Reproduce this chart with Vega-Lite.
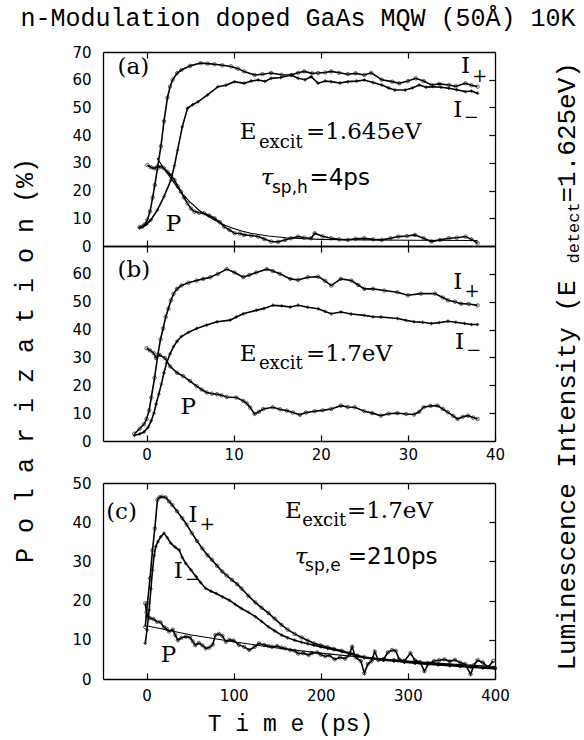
{
"$schema": "https://vega.github.io/schema/vega-lite/v6.json",
"padding": {"left": 12, "top": 6, "right": 2, "bottom": 12},
"title": {"text": "n-Modulation doped GaAs MQW (50Å) 10K", "font": "Liberation Mono", "fontSize": 25, "fontWeight": "normal", "color": "black", "anchor": "middle", "offset": 14, "dx": 1},
"config": {
 "view": {"stroke": null},
 "axis": {"domain": true, "domainColor": "black", "domainWidth": 1.3, "grid": false, "ticks": true, "tickSize": -6, "tickColor": "black", "tickWidth": 1.2, "labelColor": "black", "labelFont": "DejaVu Sans", "labelFontSize": 15, "labelFlush": false, "labelOverlap": false, "titleColor": "black", "titleFont": "Liberation Mono", "titleFontWeight": "normal"}
},
"bounds": "flush",
"spacing": 0,
"datasets": {
"curves": [
{"p":"a","s":"I+","t":-0.8,"v":6.8},{"p":"a","s":"I+","t":-0.5,"v":7},{"p":"a","s":"I+","t":-0.2,"v":7.8},{"p":"a","s":"I+","t":0.1,"v":9.4},{"p":"a","s":"I+","t":0.4,"v":12.5},{"p":"a","s":"I+","t":0.7,"v":17.5},{"p":"a","s":"I+","t":0.95,"v":22},{"p":"a","s":"I+","t":1.25,"v":28},{"p":"a","s":"I+","t":1.65,"v":36},{"p":"a","s":"I+","t":2.0,"v":45},{"p":"a","s":"I+","t":2.4,"v":53.5},{"p":"a","s":"I+","t":2.7,"v":57.5},{"p":"a","s":"I+","t":3.0,"v":60},{"p":"a","s":"I+","t":3.5,"v":62.3},{"p":"a","s":"I+","t":4.0,"v":63.5},{"p":"a","s":"I+","t":5.0,"v":65},{"p":"a","s":"I+","t":6.2,"v":66},{"p":"a","s":"I+","t":7.0,"v":65.8},{"p":"a","s":"I+","t":7.8,"v":65.6},{"p":"a","s":"I+","t":8.7,"v":65.2},{"p":"a","s":"I+","t":9.7,"v":64.8},{"p":"a","s":"I+","t":10.5,"v":64},{"p":"a","s":"I+","t":11.2,"v":63},{"p":"a","s":"I+","t":12.4,"v":61.7},{"p":"a","s":"I+","t":13.3,"v":62},{"p":"a","s":"I+","t":14.3,"v":62.4},{"p":"a","s":"I+","t":15.5,"v":61.8},{"p":"a","s":"I+","t":16.6,"v":61.7},{"p":"a","s":"I+","t":17.4,"v":62.5},{"p":"a","s":"I+","t":18.1,"v":63},{"p":"a","s":"I+","t":19.0,"v":62.3},{"p":"a","s":"I+","t":19.7,"v":62.4},{"p":"a","s":"I+","t":20.5,"v":62.6},{"p":"a","s":"I+","t":21.2,"v":63},{"p":"a","s":"I+","t":22.1,"v":62.5},{"p":"a","s":"I+","t":23.1,"v":62},{"p":"a","s":"I+","t":24.0,"v":62.3},{"p":"a","s":"I+","t":25.0,"v":61.7},{"p":"a","s":"I+","t":25.8,"v":62.5},{"p":"a","s":"I+","t":27.0,"v":60},{"p":"a","s":"I+","t":28.2,"v":59.3},{"p":"a","s":"I+","t":29.0,"v":58.7},{"p":"a","s":"I+","t":30.0,"v":59.5},{"p":"a","s":"I+","t":30.9,"v":60.5},{"p":"a","s":"I+","t":31.8,"v":59.5},{"p":"a","s":"I+","t":32.7,"v":58.1},{"p":"a","s":"I+","t":33.6,"v":58.5},{"p":"a","s":"I+","t":34.7,"v":58.1},{"p":"a","s":"I+","t":35.5,"v":57.6},{"p":"a","s":"I+","t":36.6,"v":58.7},{"p":"a","s":"I+","t":37.3,"v":58},{"p":"a","s":"I+","t":38.0,"v":57.5},
{"p":"a","s":"I-","t":-0.8,"v":6.6},{"p":"a","s":"I-","t":-0.4,"v":7},{"p":"a","s":"I-","t":0,"v":7.8},{"p":"a","s":"I-","t":0.5,"v":9.4},{"p":"a","s":"I-","t":1.25,"v":13},{"p":"a","s":"I-","t":2.0,"v":17.8},{"p":"a","s":"I-","t":2.8,"v":23.8},{"p":"a","s":"I-","t":3.2,"v":29},{"p":"a","s":"I-","t":3.56,"v":34.6},{"p":"a","s":"I-","t":4.1,"v":43},{"p":"a","s":"I-","t":4.7,"v":49.7},{"p":"a","s":"I-","t":5.3,"v":51},{"p":"a","s":"I-","t":5.9,"v":52},{"p":"a","s":"I-","t":7.0,"v":54.5},{"p":"a","s":"I-","t":8.2,"v":57.5},{"p":"a","s":"I-","t":9.1,"v":58},{"p":"a","s":"I-","t":10.1,"v":59.3},{"p":"a","s":"I-","t":11.2,"v":58.7},{"p":"a","s":"I-","t":12.0,"v":59.5},{"p":"a","s":"I-","t":12.8,"v":59.9},{"p":"a","s":"I-","t":13.6,"v":59.4},{"p":"a","s":"I-","t":14.3,"v":60.5},{"p":"a","s":"I-","t":15.4,"v":60.8},{"p":"a","s":"I-","t":16.6,"v":61.7},{"p":"a","s":"I-","t":17.4,"v":60.5},{"p":"a","s":"I-","t":18.2,"v":60},{"p":"a","s":"I-","t":18.9,"v":61.1},{"p":"a","s":"I-","t":19.7,"v":58.7},{"p":"a","s":"I-","t":20.5,"v":59.5},{"p":"a","s":"I-","t":21.2,"v":59.3},{"p":"a","s":"I-","t":22.2,"v":58.8},{"p":"a","s":"I-","t":23.1,"v":59.3},{"p":"a","s":"I-","t":24.1,"v":59.5},{"p":"a","s":"I-","t":25.0,"v":59.9},{"p":"a","s":"I-","t":26.0,"v":59},{"p":"a","s":"I-","t":27.0,"v":58.1},{"p":"a","s":"I-","t":27.8,"v":57},{"p":"a","s":"I-","t":28.5,"v":56.3},{"p":"a","s":"I-","t":29.7,"v":56.3},{"p":"a","s":"I-","t":30.5,"v":57},{"p":"a","s":"I-","t":31.3,"v":58.1},{"p":"a","s":"I-","t":32.1,"v":57.3},{"p":"a","s":"I-","t":32.8,"v":57.5},{"p":"a","s":"I-","t":33.8,"v":57.3},{"p":"a","s":"I-","t":34.7,"v":56.9},{"p":"a","s":"I-","t":35.6,"v":56.4},{"p":"a","s":"I-","t":36.6,"v":55.7},{"p":"a","s":"I-","t":37.3,"v":55.9},{"p":"a","s":"I-","t":38.0,"v":55.1},
{"p":"a","s":"P","t":0.1,"v":29.2},{"p":"a","s":"P","t":0.5,"v":28.4},{"p":"a","s":"P","t":0.86,"v":28},{"p":"a","s":"P","t":1.25,"v":28.7},{"p":"a","s":"P","t":1.65,"v":28.6},{"p":"a","s":"P","t":2.0,"v":28},{"p":"a","s":"P","t":2.4,"v":26.8},{"p":"a","s":"P","t":2.8,"v":25.5},{"p":"a","s":"P","t":3.2,"v":23.8},{"p":"a","s":"P","t":3.6,"v":21.5},{"p":"a","s":"P","t":3.95,"v":19.6},{"p":"a","s":"P","t":4.3,"v":17.5},{"p":"a","s":"P","t":4.7,"v":15.4},{"p":"a","s":"P","t":5.1,"v":13.5},{"p":"a","s":"P","t":5.5,"v":12.4},{"p":"a","s":"P","t":6.0,"v":12},{"p":"a","s":"P","t":6.6,"v":11.8},{"p":"a","s":"P","t":7.2,"v":11},{"p":"a","s":"P","t":7.8,"v":10},{"p":"a","s":"P","t":8.4,"v":8.6},{"p":"a","s":"P","t":8.9,"v":7},{"p":"a","s":"P","t":9.5,"v":5.8},{"p":"a","s":"P","t":10.1,"v":4.6},{"p":"a","s":"P","t":10.7,"v":4.5},{"p":"a","s":"P","t":11.2,"v":4},{"p":"a","s":"P","t":12.0,"v":3.8},{"p":"a","s":"P","t":12.8,"v":3.4},{"p":"a","s":"P","t":13.5,"v":2.5},{"p":"a","s":"P","t":14.3,"v":1.6},{"p":"a","s":"P","t":15.1,"v":1.5},{"p":"a","s":"P","t":15.9,"v":2.2},{"p":"a","s":"P","t":16.6,"v":2.8},{"p":"a","s":"P","t":17.4,"v":3.4},{"p":"a","s":"P","t":18.1,"v":3},{"p":"a","s":"P","t":18.9,"v":2.8},{"p":"a","s":"P","t":19.3,"v":4.6},{"p":"a","s":"P","t":20.2,"v":3.5},{"p":"a","s":"P","t":21.2,"v":2.8},{"p":"a","s":"P","t":22.1,"v":2.4},{"p":"a","s":"P","t":23.1,"v":2.2},{"p":"a","s":"P","t":24.0,"v":2.6},{"p":"a","s":"P","t":25.0,"v":2.8},{"p":"a","s":"P","t":26.0,"v":2.4},{"p":"a","s":"P","t":27.0,"v":2.2},{"p":"a","s":"P","t":28.0,"v":2.8},{"p":"a","s":"P","t":28.9,"v":3.4},{"p":"a","s":"P","t":29.9,"v":3.6},{"p":"a","s":"P","t":30.8,"v":4},{"p":"a","s":"P","t":31.8,"v":2.8},{"p":"a","s":"P","t":32.7,"v":1.6},{"p":"a","s":"P","t":33.7,"v":2.2},{"p":"a","s":"P","t":34.7,"v":2.8},{"p":"a","s":"P","t":35.6,"v":3},{"p":"a","s":"P","t":36.6,"v":3.4},{"p":"a","s":"P","t":37.3,"v":2.4},{"p":"a","s":"P","t":38.0,"v":1},
{"p":"b","s":"I+","t":-1.4,"v":2.6},{"p":"b","s":"I+","t":-0.8,"v":4.4},{"p":"b","s":"I+","t":-0.3,"v":6},{"p":"b","s":"I+","t":0,"v":7.9},{"p":"b","s":"I+","t":0.3,"v":11},{"p":"b","s":"I+","t":0.54,"v":15.6},{"p":"b","s":"I+","t":0.92,"v":22.7},{"p":"b","s":"I+","t":1.3,"v":31},{"p":"b","s":"I+","t":1.6,"v":36.5},{"p":"b","s":"I+","t":1.9,"v":40.4},{"p":"b","s":"I+","t":2.2,"v":44.5},{"p":"b","s":"I+","t":2.5,"v":47.5},{"p":"b","s":"I+","t":2.8,"v":50.5},{"p":"b","s":"I+","t":3.1,"v":52.8},{"p":"b","s":"I+","t":3.5,"v":54.6},{"p":"b","s":"I+","t":4.0,"v":55.8},{"p":"b","s":"I+","t":4.8,"v":56.8},{"p":"b","s":"I+","t":5.75,"v":57.6},{"p":"b","s":"I+","t":6.5,"v":58.2},{"p":"b","s":"I+","t":7.3,"v":58.8},{"p":"b","s":"I+","t":8.2,"v":60},{"p":"b","s":"I+","t":9.2,"v":61.7},{"p":"b","s":"I+","t":10.1,"v":60.5},{"p":"b","s":"I+","t":11.1,"v":58.8},{"p":"b","s":"I+","t":11.8,"v":59.6},{"p":"b","s":"I+","t":12.6,"v":60.5},{"p":"b","s":"I+","t":13.8,"v":61.7},{"p":"b","s":"I+","t":14.5,"v":61},{"p":"b","s":"I+","t":15.3,"v":60},{"p":"b","s":"I+","t":16.5,"v":58.2},{"p":"b","s":"I+","t":17.4,"v":57.8},{"p":"b","s":"I+","t":18.5,"v":58.8},{"p":"b","s":"I+","t":19.7,"v":59},{"p":"b","s":"I+","t":20.5,"v":57.5},{"p":"b","s":"I+","t":21.2,"v":55.8},{"p":"b","s":"I+","t":22.3,"v":58.2},{"p":"b","s":"I+","t":23.5,"v":57.6},{"p":"b","s":"I+","t":24.3,"v":56},{"p":"b","s":"I+","t":25.0,"v":54.6},{"p":"b","s":"I+","t":26.0,"v":54.6},{"p":"b","s":"I+","t":27.3,"v":54},{"p":"b","s":"I+","t":28.8,"v":53.4},{"p":"b","s":"I+","t":30.0,"v":52.3},{"p":"b","s":"I+","t":31.5,"v":52.9},{"p":"b","s":"I+","t":33.1,"v":52.9},{"p":"b","s":"I+","t":34.0,"v":51.5},{"p":"b","s":"I+","t":34.6,"v":50.5},{"p":"b","s":"I+","t":35.4,"v":50},{"p":"b","s":"I+","t":36.1,"v":49.3},{"p":"b","s":"I+","t":37.0,"v":49.2},{"p":"b","s":"I+","t":38.0,"v":48.7},
{"p":"b","s":"I-","t":-1.4,"v":2},{"p":"b","s":"I-","t":-0.8,"v":2.5},{"p":"b","s":"I-","t":-0.3,"v":3.2},{"p":"b","s":"I-","t":0.2,"v":5},{"p":"b","s":"I-","t":0.54,"v":7.3},{"p":"b","s":"I-","t":0.85,"v":10},{"p":"b","s":"I-","t":1.1,"v":13.3},{"p":"b","s":"I-","t":1.4,"v":16.8},{"p":"b","s":"I-","t":1.7,"v":20.4},{"p":"b","s":"I-","t":2.0,"v":24.5},{"p":"b","s":"I-","t":2.3,"v":28},{"p":"b","s":"I-","t":2.7,"v":31.3},{"p":"b","s":"I-","t":3.1,"v":33.9},{"p":"b","s":"I-","t":3.5,"v":35.8},{"p":"b","s":"I-","t":4.0,"v":37.5},{"p":"b","s":"I-","t":4.8,"v":39},{"p":"b","s":"I-","t":5.75,"v":40.4},{"p":"b","s":"I-","t":6.9,"v":41.6},{"p":"b","s":"I-","t":8.1,"v":42.8},{"p":"b","s":"I-","t":9.6,"v":43.4},{"p":"b","s":"I-","t":10.3,"v":44.5},{"p":"b","s":"I-","t":11.1,"v":45.7},{"p":"b","s":"I-","t":12.6,"v":46.9},{"p":"b","s":"I-","t":13.5,"v":47.6},{"p":"b","s":"I-","t":14.5,"v":48.7},{"p":"b","s":"I-","t":15.5,"v":48.5},{"p":"b","s":"I-","t":16.5,"v":48.1},{"p":"b","s":"I-","t":17.4,"v":48.7},{"p":"b","s":"I-","t":18.5,"v":48},{"p":"b","s":"I-","t":19.7,"v":47.5},{"p":"b","s":"I-","t":20.5,"v":46.5},{"p":"b","s":"I-","t":21.2,"v":45.7},{"p":"b","s":"I-","t":22.3,"v":46.3},{"p":"b","s":"I-","t":23.5,"v":45.6},{"p":"b","s":"I-","t":25.0,"v":45.1},{"p":"b","s":"I-","t":26.0,"v":44.6},{"p":"b","s":"I-","t":26.9,"v":44.5},{"p":"b","s":"I-","t":28.8,"v":44},{"p":"b","s":"I-","t":29.8,"v":43.3},{"p":"b","s":"I-","t":30.7,"v":42.8},{"p":"b","s":"I-","t":31.7,"v":42.6},{"p":"b","s":"I-","t":32.7,"v":42.2},{"p":"b","s":"I-","t":33.6,"v":42.5},{"p":"b","s":"I-","t":34.6,"v":43},{"p":"b","s":"I-","t":35.5,"v":42.6},{"p":"b","s":"I-","t":36.5,"v":42.2},{"p":"b","s":"I-","t":37.3,"v":41.8},{"p":"b","s":"I-","t":38.0,"v":41.8},
{"p":"b","s":"P","t":0,"v":33.3},{"p":"b","s":"P","t":0.4,"v":32.5},{"p":"b","s":"P","t":0.8,"v":31.6},{"p":"b","s":"P","t":1.1,"v":29.8},{"p":"b","s":"P","t":1.5,"v":30.9},{"p":"b","s":"P","t":2.1,"v":29.8},{"p":"b","s":"P","t":2.7,"v":26.8},{"p":"b","s":"P","t":3.5,"v":24.5},{"p":"b","s":"P","t":4.2,"v":23.3},{"p":"b","s":"P","t":5.0,"v":21.5},{"p":"b","s":"P","t":5.75,"v":19.7},{"p":"b","s":"P","t":6.3,"v":18.5},{"p":"b","s":"P","t":6.9,"v":17.4},{"p":"b","s":"P","t":7.5,"v":17},{"p":"b","s":"P","t":8.1,"v":16.8},{"p":"b","s":"P","t":8.6,"v":16.4},{"p":"b","s":"P","t":9.2,"v":15.8},{"p":"b","s":"P","t":10.3,"v":15.6},{"p":"b","s":"P","t":11.1,"v":14.4},{"p":"b","s":"P","t":11.5,"v":13.5},{"p":"b","s":"P","t":11.9,"v":12},{"p":"b","s":"P","t":12.4,"v":9.7},{"p":"b","s":"P","t":12.9,"v":10.5},{"p":"b","s":"P","t":13.4,"v":11.5},{"p":"b","s":"P","t":14.5,"v":12.1},{"p":"b","s":"P","t":15.3,"v":11.4},{"p":"b","s":"P","t":16.1,"v":10.9},{"p":"b","s":"P","t":16.8,"v":10.2},{"p":"b","s":"P","t":17.6,"v":9.4},{"p":"b","s":"P","t":18.3,"v":10.2},{"p":"b","s":"P","t":19.3,"v":10.7},{"p":"b","s":"P","t":20.2,"v":11},{"p":"b","s":"P","t":21.2,"v":11.5},{"p":"b","s":"P","t":22.3,"v":12.7},{"p":"b","s":"P","t":23.1,"v":12.2},{"p":"b","s":"P","t":23.9,"v":12.1},{"p":"b","s":"P","t":25.0,"v":10.7},{"p":"b","s":"P","t":25.9,"v":10},{"p":"b","s":"P","t":26.9,"v":9.1},{"p":"b","s":"P","t":27.8,"v":9.8},{"p":"b","s":"P","t":28.8,"v":10},{"p":"b","s":"P","t":29.8,"v":9.7},{"p":"b","s":"P","t":30.7,"v":9.5},{"p":"b","s":"P","t":31.3,"v":10.5},{"p":"b","s":"P","t":31.8,"v":12.1},{"p":"b","s":"P","t":32.6,"v":12.6},{"p":"b","s":"P","t":33.4,"v":12.7},{"p":"b","s":"P","t":34.0,"v":11.5},{"p":"b","s":"P","t":34.6,"v":10.3},{"p":"b","s":"P","t":35.2,"v":9},{"p":"b","s":"P","t":35.7,"v":7.9},{"p":"b","s":"P","t":36.3,"v":8.7},{"p":"b","s":"P","t":36.9,"v":9.1},{"p":"b","s":"P","t":37.5,"v":8.4},{"p":"b","s":"P","t":38.0,"v":7.9},
{"p":"c","s":"I+","t":-1.5,"v":13.3},{"p":"c","s":"I+","t":1,"v":19.3},{"p":"c","s":"I+","t":4,"v":25.7},{"p":"c","s":"I+","t":6.8,"v":32.9},{"p":"c","s":"I+","t":9.5,"v":38.4},{"p":"c","s":"I+","t":12.5,"v":45.7},{"p":"c","s":"I+","t":15,"v":46.4},{"p":"c","s":"I+","t":18,"v":46.5},{"p":"c","s":"I+","t":22,"v":46.3},{"p":"c","s":"I+","t":26,"v":45.3},{"p":"c","s":"I+","t":29.6,"v":44.4},{"p":"c","s":"I+","t":35,"v":42.8},{"p":"c","s":"I+","t":41,"v":41},{"p":"c","s":"I+","t":46,"v":39.4},{"p":"c","s":"I+","t":52,"v":37.2},{"p":"c","s":"I+","t":58,"v":35.2},{"p":"c","s":"I+","t":64,"v":33.3},{"p":"c","s":"I+","t":70,"v":31.6},{"p":"c","s":"I+","t":75,"v":30.4},{"p":"c","s":"I+","t":81,"v":28.9},{"p":"c","s":"I+","t":87,"v":27.4},{"p":"c","s":"I+","t":92,"v":26.4},{"p":"c","s":"I+","t":98,"v":25.3},{"p":"c","s":"I+","t":104,"v":24.2},{"p":"c","s":"I+","t":109,"v":23.1},{"p":"c","s":"I+","t":117,"v":21.2},{"p":"c","s":"I+","t":125,"v":19.5},{"p":"c","s":"I+","t":132,"v":18.2},{"p":"c","s":"I+","t":140,"v":16.8},{"p":"c","s":"I+","t":147,"v":15.4},{"p":"c","s":"I+","t":155,"v":13.8},{"p":"c","s":"I+","t":162,"v":12.6},{"p":"c","s":"I+","t":170,"v":11.5},{"p":"c","s":"I+","t":178,"v":10.6},{"p":"c","s":"I+","t":185,"v":9.8},{"p":"c","s":"I+","t":192,"v":9.1},{"p":"c","s":"I+","t":200,"v":8.6},{"p":"c","s":"I+","t":208,"v":8.1},{"p":"c","s":"I+","t":215,"v":7.7},{"p":"c","s":"I+","t":224,"v":7.2},{"p":"c","s":"I+","t":234,"v":6.6},{"p":"c","s":"I+","t":242,"v":6},{"p":"c","s":"I+","t":250,"v":5.6},{"p":"c","s":"I+","t":260,"v":5.3},{"p":"c","s":"I+","t":272,"v":5},{"p":"c","s":"I+","t":284,"v":4.8},{"p":"c","s":"I+","t":296,"v":4.5},{"p":"c","s":"I+","t":308,"v":4.2},{"p":"c","s":"I+","t":322,"v":4},{"p":"c","s":"I+","t":335,"v":3.8},{"p":"c","s":"I+","t":348,"v":3.6},{"p":"c","s":"I+","t":360,"v":3.4},{"p":"c","s":"I+","t":372,"v":3.2},{"p":"c","s":"I+","t":386,"v":3},{"p":"c","s":"I+","t":400,"v":2.8},
{"p":"c","s":"I-","t":-1.5,"v":9.1},{"p":"c","s":"I-","t":0.5,"v":12.5},{"p":"c","s":"I-","t":3,"v":17.6},{"p":"c","s":"I-","t":5,"v":23},{"p":"c","s":"I-","t":6.8,"v":27.8},{"p":"c","s":"I-","t":8.7,"v":31.5},{"p":"c","s":"I-","t":10.6,"v":33.8},{"p":"c","s":"I-","t":13,"v":35},{"p":"c","s":"I-","t":16.3,"v":36.3},{"p":"c","s":"I-","t":20,"v":37.2},{"p":"c","s":"I-","t":24,"v":36},{"p":"c","s":"I-","t":28,"v":34.6},{"p":"c","s":"I-","t":33,"v":33.6},{"p":"c","s":"I-","t":37.5,"v":32.9},{"p":"c","s":"I-","t":41,"v":31},{"p":"c","s":"I-","t":45,"v":29.5},{"p":"c","s":"I-","t":51,"v":27.8},{"p":"c","s":"I-","t":57,"v":26.1},{"p":"c","s":"I-","t":62,"v":24.6},{"p":"c","s":"I-","t":68,"v":23.1},{"p":"c","s":"I-","t":74,"v":22.4},{"p":"c","s":"I-","t":80,"v":21.8},{"p":"c","s":"I-","t":87,"v":21},{"p":"c","s":"I-","t":95,"v":20.1},{"p":"c","s":"I-","t":102,"v":19},{"p":"c","s":"I-","t":109,"v":18},{"p":"c","s":"I-","t":117,"v":17},{"p":"c","s":"I-","t":125,"v":15.9},{"p":"c","s":"I-","t":132,"v":14.7},{"p":"c","s":"I-","t":140,"v":13.3},{"p":"c","s":"I-","t":147,"v":12.3},{"p":"c","s":"I-","t":155,"v":11.2},{"p":"c","s":"I-","t":162,"v":10.5},{"p":"c","s":"I-","t":170,"v":9.9},{"p":"c","s":"I-","t":178,"v":9.4},{"p":"c","s":"I-","t":185,"v":9},{"p":"c","s":"I-","t":192,"v":8.6},{"p":"c","s":"I-","t":200,"v":8.2},{"p":"c","s":"I-","t":208,"v":7.8},{"p":"c","s":"I-","t":215,"v":7.5},{"p":"c","s":"I-","t":224,"v":7},{"p":"c","s":"I-","t":234,"v":6.4},{"p":"c","s":"I-","t":242,"v":5.8},{"p":"c","s":"I-","t":250,"v":5.4},{"p":"c","s":"I-","t":260,"v":5.1},{"p":"c","s":"I-","t":272,"v":4.8},{"p":"c","s":"I-","t":284,"v":4.6},{"p":"c","s":"I-","t":296,"v":4.3},{"p":"c","s":"I-","t":308,"v":4},{"p":"c","s":"I-","t":322,"v":3.8},{"p":"c","s":"I-","t":335,"v":3.6},{"p":"c","s":"I-","t":348,"v":3.4},{"p":"c","s":"I-","t":360,"v":3.2},{"p":"c","s":"I-","t":372,"v":3},{"p":"c","s":"I-","t":386,"v":2.8},{"p":"c","s":"I-","t":400,"v":2.6},
{"p":"c","s":"P","t":-1.5,"v":19.3},{"p":"c","s":"P","t":0,"v":17},{"p":"c","s":"P","t":1,"v":16},{"p":"c","s":"P","t":4,"v":15.5},{"p":"c","s":"P","t":8,"v":15.3},{"p":"c","s":"P","t":12,"v":14.6},{"p":"c","s":"P","t":16,"v":14.5},{"p":"c","s":"P","t":20,"v":13.2},{"p":"c","s":"P","t":23,"v":12.8},{"p":"c","s":"P","t":26,"v":12.1},{"p":"c","s":"P","t":30,"v":12.6},{"p":"c","s":"P","t":33,"v":11.2},{"p":"c","s":"P","t":36,"v":9.9},{"p":"c","s":"P","t":40,"v":10.5},{"p":"c","s":"P","t":45,"v":10.8},{"p":"c","s":"P","t":50,"v":10.6},{"p":"c","s":"P","t":53,"v":9.6},{"p":"c","s":"P","t":56,"v":8.6},{"p":"c","s":"P","t":60,"v":9.2},{"p":"c","s":"P","t":64,"v":8.6},{"p":"c","s":"P","t":68,"v":7.8},{"p":"c","s":"P","t":72,"v":8},{"p":"c","s":"P","t":76,"v":8.8},{"p":"c","s":"P","t":79,"v":11.2},{"p":"c","s":"P","t":83,"v":11.5},{"p":"c","s":"P","t":87,"v":11},{"p":"c","s":"P","t":91,"v":9.5},{"p":"c","s":"P","t":95,"v":10},{"p":"c","s":"P","t":100,"v":9.8},{"p":"c","s":"P","t":106,"v":8.7},{"p":"c","s":"P","t":112,"v":8.2},{"p":"c","s":"P","t":118,"v":7.4},{"p":"c","s":"P","t":124,"v":8.2},{"p":"c","s":"P","t":129,"v":9.1},{"p":"c","s":"P","t":135,"v":8.7},{"p":"c","s":"P","t":140,"v":8.4},{"p":"c","s":"P","t":144,"v":8.2},{"p":"c","s":"P","t":150,"v":8.4},{"p":"c","s":"P","t":155,"v":8},{"p":"c","s":"P","t":159,"v":7.8},{"p":"c","s":"P","t":165,"v":7.4},{"p":"c","s":"P","t":170,"v":7.2},{"p":"c","s":"P","t":174,"v":6.5},{"p":"c","s":"P","t":180,"v":6.6},{"p":"c","s":"P","t":186,"v":6.1},{"p":"c","s":"P","t":190,"v":6.6},{"p":"c","s":"P","t":196,"v":6.8},{"p":"c","s":"P","t":200,"v":6.2},{"p":"c","s":"P","t":205,"v":5.8},{"p":"c","s":"P","t":210,"v":6},{"p":"c","s":"P","t":216,"v":5},{"p":"c","s":"P","t":222,"v":5.5},{"p":"c","s":"P","t":228,"v":5.2},{"p":"c","s":"P","t":232,"v":6},{"p":"c","s":"P","t":236,"v":8.2},{"p":"c","s":"P","t":240,"v":5.5},{"p":"c","s":"P","t":246,"v":4.6},{"p":"c","s":"P","t":250,"v":1.5},{"p":"c","s":"P","t":254,"v":3.8},{"p":"c","s":"P","t":258,"v":4.5},{"p":"c","s":"P","t":262,"v":7},{"p":"c","s":"P","t":266,"v":4.8},{"p":"c","s":"P","t":272,"v":5},{"p":"c","s":"P","t":277,"v":6.8},{"p":"c","s":"P","t":282,"v":7.4},{"p":"c","s":"P","t":286,"v":7.2},{"p":"c","s":"P","t":290,"v":5},{"p":"c","s":"P","t":296,"v":4.6},{"p":"c","s":"P","t":303,"v":6.6},{"p":"c","s":"P","t":308,"v":4.8},{"p":"c","s":"P","t":314,"v":4.3},{"p":"c","s":"P","t":319,"v":2},{"p":"c","s":"P","t":324,"v":4},{"p":"c","s":"P","t":330,"v":4.6},{"p":"c","s":"P","t":336,"v":4.8},{"p":"c","s":"P","t":342,"v":5},{"p":"c","s":"P","t":348,"v":4.5},{"p":"c","s":"P","t":354,"v":4.9},{"p":"c","s":"P","t":360,"v":4.2},{"p":"c","s":"P","t":366,"v":3.8},{"p":"c","s":"P","t":372,"v":1.2},{"p":"c","s":"P","t":376,"v":3.6},{"p":"c","s":"P","t":380,"v":4.8},{"p":"c","s":"P","t":386,"v":4.2},{"p":"c","s":"P","t":392,"v":3},{"p":"c","s":"P","t":398,"v":4.6}
],
"fits": [
{"p":"a","t":1.2,"v":31.7},{"p":"a","t":2,"v":28},{"p":"a","t":3,"v":23.5},{"p":"a","t":4,"v":19.2},{"p":"a","t":5,"v":15.8},{"p":"a","t":6,"v":13},{"p":"a","t":7,"v":10.8},{"p":"a","t":8,"v":9},{"p":"a","t":9,"v":7.5},{"p":"a","t":10,"v":6.3},{"p":"a","t":11,"v":5.3},{"p":"a","t":12,"v":4.6},{"p":"a","t":14,"v":3.6},{"p":"a","t":16,"v":3},{"p":"a","t":18,"v":2.6},{"p":"a","t":20,"v":2.4},{"p":"a","t":25,"v":2.2},{"p":"a","t":30,"v":2.1},{"p":"a","t":38,"v":2},
{"p":"c","t":0,"v":13.6},{"p":"c","t":50,"v":11.3},{"p":"c","t":100,"v":9.5},{"p":"c","t":150,"v":7.9},{"p":"c","t":200,"v":6.6},{"p":"c","t":250,"v":5.5},{"p":"c","t":300,"v":4.6},{"p":"c","t":350,"v":3.8},{"p":"c","t":400,"v":3.2}
],
"notes": [
{"p":"a","st":"big","t":-3.33,"v":62,"txt":"(a)"},
{"p":"a","st":"big","t":10.7,"v":38.5,"txt":"E"},
{"p":"a","st":"sub","t":12.9,"v":35.4,"txt":"excit"},
{"p":"a","st":"big","t":18.3,"v":38.5,"txt":"=1.645eV"},
{"p":"a","st":"tau","t":13.1,"v":22,"txt":"τ"},
{"p":"a","st":"ssub","t":14.4,"v":19.2,"txt":"sp,h"},
{"p":"a","st":"sans","t":18.7,"v":22,"txt":"=4ps"},
{"p":"a","st":"big","t":2.2,"v":5.4,"txt":"P"},
{"p":"a","st":"big","t":36.1,"v":62.5,"txt":"I"},
{"p":"a","st":"sub","t":37.4,"v":59.3,"txt":"+"},
{"p":"a","st":"big","t":35.2,"v":46.6,"txt":"I"},
{"p":"a","st":"sub","t":36.4,"v":44.4,"txt":"−"},
{"p":"b","st":"big","t":-3.33,"v":58.7,"txt":"(b)"},
{"p":"b","st":"big","t":10.7,"v":28.8,"txt":"E"},
{"p":"b","st":"sub","t":12.9,"v":26,"txt":"excit"},
{"p":"b","st":"big","t":18.3,"v":28.8,"txt":"=1.7eV"},
{"p":"b","st":"big","t":3.9,"v":9.8,"txt":"P"},
{"p":"b","st":"big","t":35.2,"v":54.6,"txt":"I"},
{"p":"b","st":"sub","t":36.5,"v":51.7,"txt":"+"},
{"p":"b","st":"big","t":35.4,"v":32.9,"txt":"I"},
{"p":"b","st":"sub","t":36.7,"v":30.4,"txt":"−"},
{"p":"c","st":"big","t":-46.4,"v":40.8,"txt":"(c)"},
{"p":"c","st":"big","t":48.2,"v":40.1,"txt":"I"},
{"p":"c","st":"sub","t":61,"v":38,"txt":"+"},
{"p":"c","st":"big","t":31.1,"v":25.7,"txt":"I"},
{"p":"c","st":"sub","t":44,"v":24,"txt":"−"},
{"p":"c","st":"big","t":158.8,"v":41,"txt":"E"},
{"p":"c","st":"sub","t":178.8,"v":39,"txt":"excit"},
{"p":"c","st":"big","t":230,"v":41,"txt":"=1.7eV"},
{"p":"c","st":"tau","t":170,"v":29.3,"txt":"τ"},
{"p":"c","st":"ssub","t":182,"v":27.5,"txt":"sp,e"},
{"p":"c","st":"sans","t":231,"v":29.3,"txt":"=210ps"},
{"p":"c","st":"big","t":16.3,"v":4.4,"txt":"P"}
]
},
"vconcat": [
{
 "width": 392, "height": 194,
 "resolve": {"axis": {"x": "independent", "y": "independent"}},
 "layer": [
  {"data": {"name": "curves"}, "transform": [{"filter": "datum.p=='a'"}],
   "mark": {"type": "line", "color": "black", "strokeWidth": 1.6},
   "encoding": {
    "x": {"field": "t", "type": "quantitative", "scale": {"domain": [-5, 40], "nice": false, "zero": false}, "axis": {"orient": "bottom", "values": [0, 10, 20, 30], "labels": false, "title": null}},
    "y": {"field": "v", "type": "quantitative", "scale": {"domain": [0, 70], "nice": false, "zero": false}, "axis": {"orient": "left", "values": [0, 10, 20, 30, 40, 50, 60, 70], "ticks": false, "labelPadding": 12, "title": null}},
    "detail": {"field": "s", "type": "nominal"}}},
  {"data": {"name": "curves"}, "transform": [{"filter": "datum.p=='a' && datum.s!='I-'"}],
   "mark": {"type": "point", "shape": "circle", "filled": false, "size": 12, "color": "black", "strokeWidth": 0.9},
   "encoding": {"x": {"field": "t", "type": "quantitative", "axis": null}, "y": {"field": "v", "type": "quantitative", "axis": null}}},
  {"data": {"name": "curves"}, "transform": [{"filter": "datum.p=='a' && datum.s=='I-'"}],
   "mark": {"type": "point", "shape": "cross", "filled": true, "size": 12, "color": "black"},
   "encoding": {"x": {"field": "t", "type": "quantitative", "axis": null}, "y": {"field": "v", "type": "quantitative", "axis": null}}},
  {"data": {"name": "fits"}, "transform": [{"filter": "datum.p=='a'"}],
   "mark": {"type": "line", "color": "black", "strokeWidth": 1.1},
   "encoding": {"x": {"field": "t", "type": "quantitative", "axis": null}, "y": {"field": "v", "type": "quantitative", "axis": null}}},
  {"data": {"name": "curves"}, "transform": [{"filter": "datum.p=='a'"}],
   "mark": {"type": "point", "opacity": 0},
   "encoding": {
    "x": {"field": "t", "type": "quantitative", "axis": {"orient": "top", "values": [0, 10, 20, 30], "labels": false, "title": null}},
    "y": {"field": "v", "type": "quantitative", "axis": {"orient": "right", "values": [10, 20, 30, 40, 50, 60], "labels": false, "title": "=1.625eV)", "titleFontSize": 26, "titleAngle": 270, "titleAlign": "left", "titleBaseline": "alphabetic", "titleX": 79, "titleY": 150}}}},
  {"data": {"name": "notes"}, "transform": [{"filter": "datum.p=='a' && datum.st=='big'"}],
   "mark": {"type": "text", "font": "DejaVu Serif", "fontSize": 23, "align": "left", "baseline": "alphabetic", "color": "black"},
   "encoding": {"x": {"field": "t", "type": "quantitative", "axis": null}, "y": {"field": "v", "type": "quantitative", "axis": null}, "text": {"field": "txt", "type": "nominal"}}},
  {"data": {"name": "notes"}, "transform": [{"filter": "datum.p=='a' && datum.st=='sub'"}],
   "mark": {"type": "text", "font": "DejaVu Serif", "fontSize": 18, "align": "left", "baseline": "alphabetic", "color": "black"},
   "encoding": {"x": {"field": "t", "type": "quantitative", "axis": null}, "y": {"field": "v", "type": "quantitative", "axis": null}, "text": {"field": "txt", "type": "nominal"}}},
  {"data": {"name": "notes"}, "transform": [{"filter": "datum.p=='a' && datum.st=='tau'"}],
   "mark": {"type": "text", "font": "DejaVu Serif", "fontStyle": "italic", "fontSize": 23, "align": "left", "baseline": "alphabetic", "color": "black"},
   "encoding": {"x": {"field": "t", "type": "quantitative", "axis": null}, "y": {"field": "v", "type": "quantitative", "axis": null}, "text": {"field": "txt", "type": "nominal"}}},
  {"data": {"name": "notes"}, "transform": [{"filter": "datum.p=='a' && datum.st=='ssub'"}],
   "mark": {"type": "text", "font": "DejaVu Sans", "fontSize": 17, "align": "left", "baseline": "alphabetic", "color": "black"},
   "encoding": {"x": {"field": "t", "type": "quantitative", "axis": null}, "y": {"field": "v", "type": "quantitative", "axis": null}, "text": {"field": "txt", "type": "nominal"}}},
  {"data": {"name": "notes"}, "transform": [{"filter": "datum.p=='a' && datum.st=='sans'"}],
   "mark": {"type": "text", "font": "DejaVu Sans", "fontSize": 23, "align": "left", "baseline": "alphabetic", "color": "black"},
   "encoding": {"x": {"field": "t", "type": "quantitative", "axis": null}, "y": {"field": "v", "type": "quantitative", "axis": null}, "text": {"field": "txt", "type": "nominal"}}}
 ]
},
{
 "width": 392, "height": 195,
 "resolve": {"axis": {"x": "independent", "y": "independent"}},
 "layer": [
  {"data": {"name": "curves"}, "transform": [{"filter": "datum.p=='b'"}],
   "mark": {"type": "line", "color": "black", "strokeWidth": 1.6},
   "encoding": {
    "x": {"field": "t", "type": "quantitative", "scale": {"domain": [-5, 40], "nice": false, "zero": false}, "axis": {"orient": "bottom", "values": [0, 10, 20, 30, 40], "labelPadding": 12, "title": null}},
    "y": {"field": "v", "type": "quantitative", "scale": {"domain": [0, 70], "nice": false, "zero": false}, "axis": {"orient": "left", "values": [0, 10, 20, 30, 40, 50, 60], "ticks": false, "labelPadding": 12, "title": "P o l a r i z a t i o n   (%)", "titleFontSize": 25, "titlePadding": 34, "titleY": 114}},
    "detail": {"field": "s", "type": "nominal"}}},
  {"data": {"name": "curves"}, "transform": [{"filter": "datum.p=='b' && datum.s!='I-'"}],
   "mark": {"type": "point", "shape": "circle", "filled": false, "size": 12, "color": "black", "strokeWidth": 0.9},
   "encoding": {"x": {"field": "t", "type": "quantitative", "axis": null}, "y": {"field": "v", "type": "quantitative", "axis": null}}},
  {"data": {"name": "curves"}, "transform": [{"filter": "datum.p=='b' && datum.s=='I-'"}],
   "mark": {"type": "point", "shape": "cross", "filled": true, "size": 12, "color": "black"},
   "encoding": {"x": {"field": "t", "type": "quantitative", "axis": null}, "y": {"field": "v", "type": "quantitative", "axis": null}}},
  {"data": {"name": "curves"}, "transform": [{"filter": "datum.p=='b'"}],
   "mark": {"type": "point", "opacity": 0},
   "encoding": {
    "x": {"field": "t", "type": "quantitative", "axis": {"orient": "top", "values": [0, 10, 20, 30], "labels": false, "title": null}},
    "y": {"field": "v", "type": "quantitative", "axis": {"orient": "right", "values": [10, 20, 30, 40, 50, 60], "labels": false, "title": "detect", "titleFontSize": 17, "titleAngle": 270, "titleAlign": "left", "titleBaseline": "alphabetic", "titleX": 83, "titleY": 17}}}},
  {"data": {"name": "notes"}, "transform": [{"filter": "datum.p=='b' && datum.st=='big'"}],
   "mark": {"type": "text", "font": "DejaVu Serif", "fontSize": 23, "align": "left", "baseline": "alphabetic", "color": "black"},
   "encoding": {"x": {"field": "t", "type": "quantitative", "axis": null}, "y": {"field": "v", "type": "quantitative", "axis": null}, "text": {"field": "txt", "type": "nominal"}}},
  {"data": {"name": "notes"}, "transform": [{"filter": "datum.p=='b' && datum.st=='sub'"}],
   "mark": {"type": "text", "font": "DejaVu Serif", "fontSize": 18, "align": "left", "baseline": "alphabetic", "color": "black"},
   "encoding": {"x": {"field": "t", "type": "quantitative", "axis": null}, "y": {"field": "v", "type": "quantitative", "axis": null}, "text": {"field": "txt", "type": "nominal"}}}
 ]
},
{
 "width": 392, "height": 42,
 "data": {"values": [{"k": 0}]},
 "mark": {"type": "point", "opacity": 0},
 "encoding": {}
},
{
 "width": 392, "height": 196,
 "resolve": {"axis": {"x": "independent", "y": "independent"}},
 "layer": [
  {"data": {"name": "curves"}, "transform": [{"filter": "datum.p=='c'"}],
   "mark": {"type": "line", "color": "black", "strokeWidth": 1.6},
   "encoding": {
    "x": {"field": "t", "type": "quantitative", "scale": {"domain": [-50, 400], "nice": false, "zero": false}, "axis": {"orient": "bottom", "values": [0, 100, 200, 300, 400], "labelPadding": 15, "title": "T i m e  (ps)", "titleFontSize": 23, "titleX": 187, "titleY": 51, "titleBaseline": "alphabetic"}},
    "y": {"field": "v", "type": "quantitative", "scale": {"domain": [0, 50], "nice": false, "zero": false}, "axis": {"orient": "left", "values": [0, 10, 20, 30, 40, 50], "ticks": false, "labelPadding": 12, "title": null}},
    "detail": {"field": "s", "type": "nominal"}}},
  {"data": {"name": "curves"}, "transform": [{"filter": "datum.p=='c' && datum.s!='I-'"}],
   "mark": {"type": "point", "shape": "circle", "filled": false, "size": 12, "color": "black", "strokeWidth": 0.9},
   "encoding": {"x": {"field": "t", "type": "quantitative", "axis": null}, "y": {"field": "v", "type": "quantitative", "axis": null}}},
  {"data": {"name": "curves"}, "transform": [{"filter": "datum.p=='c' && datum.s=='I-'"}],
   "mark": {"type": "point", "shape": "cross", "filled": true, "size": 12, "color": "black"},
   "encoding": {"x": {"field": "t", "type": "quantitative", "axis": null}, "y": {"field": "v", "type": "quantitative", "axis": null}}},
  {"data": {"name": "fits"}, "transform": [{"filter": "datum.p=='c'"}],
   "mark": {"type": "line", "color": "black", "strokeWidth": 1.1},
   "encoding": {"x": {"field": "t", "type": "quantitative", "axis": null}, "y": {"field": "v", "type": "quantitative", "axis": null}}},
  {"data": {"name": "curves"}, "transform": [{"filter": "datum.p=='c'"}],
   "mark": {"type": "point", "opacity": 0},
   "encoding": {
    "x": {"field": "t", "type": "quantitative", "axis": {"orient": "top", "values": [0, 100, 200, 300], "labels": false, "title": null}},
    "y": {"field": "v", "type": "quantitative", "axis": {"orient": "right", "values": [10, 20, 30, 40], "labels": false, "title": "Luminescence Intensity  (E", "titleFontSize": 26, "titleAngle": 270, "titleAlign": "left", "titleBaseline": "alphabetic", "titleX": 79, "titleY": 187}}}},
  {"data": {"name": "notes"}, "transform": [{"filter": "datum.p=='c' && datum.st=='big'"}],
   "mark": {"type": "text", "font": "DejaVu Serif", "fontSize": 23, "align": "left", "baseline": "alphabetic", "color": "black"},
   "encoding": {"x": {"field": "t", "type": "quantitative", "axis": null}, "y": {"field": "v", "type": "quantitative", "axis": null}, "text": {"field": "txt", "type": "nominal"}}},
  {"data": {"name": "notes"}, "transform": [{"filter": "datum.p=='c' && datum.st=='sub'"}],
   "mark": {"type": "text", "font": "DejaVu Serif", "fontSize": 18, "align": "left", "baseline": "alphabetic", "color": "black"},
   "encoding": {"x": {"field": "t", "type": "quantitative", "axis": null}, "y": {"field": "v", "type": "quantitative", "axis": null}, "text": {"field": "txt", "type": "nominal"}}},
  {"data": {"name": "notes"}, "transform": [{"filter": "datum.p=='c' && datum.st=='tau'"}],
   "mark": {"type": "text", "font": "DejaVu Serif", "fontStyle": "italic", "fontSize": 23, "align": "left", "baseline": "alphabetic", "color": "black"},
   "encoding": {"x": {"field": "t", "type": "quantitative", "axis": null}, "y": {"field": "v", "type": "quantitative", "axis": null}, "text": {"field": "txt", "type": "nominal"}}},
  {"data": {"name": "notes"}, "transform": [{"filter": "datum.p=='c' && datum.st=='ssub'"}],
   "mark": {"type": "text", "font": "DejaVu Sans", "fontSize": 17, "align": "left", "baseline": "alphabetic", "color": "black"},
   "encoding": {"x": {"field": "t", "type": "quantitative", "axis": null}, "y": {"field": "v", "type": "quantitative", "axis": null}, "text": {"field": "txt", "type": "nominal"}}},
  {"data": {"name": "notes"}, "transform": [{"filter": "datum.p=='c' && datum.st=='sans'"}],
   "mark": {"type": "text", "font": "DejaVu Sans", "fontSize": 23, "align": "left", "baseline": "alphabetic", "color": "black"},
   "encoding": {"x": {"field": "t", "type": "quantitative", "axis": null}, "y": {"field": "v", "type": "quantitative", "axis": null}, "text": {"field": "txt", "type": "nominal"}}}
 ]
}
]
}
